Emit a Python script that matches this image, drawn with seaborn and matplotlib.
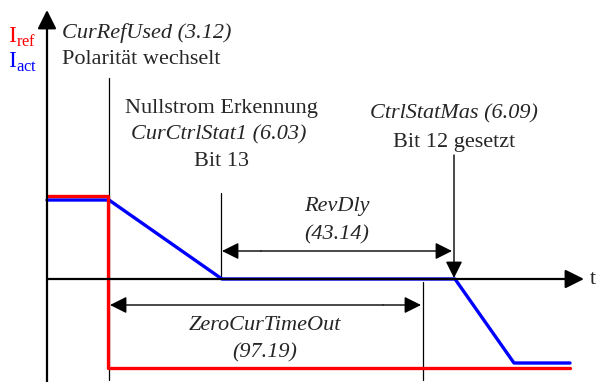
"""
Timing diagram: polarity reversal of the current reference (I_ref / I_act).
"""

import matplotlib
matplotlib.use("Agg")
import matplotlib.pyplot as plt
import seaborn as sns
import pandas as pd

# time positions (x) and current levels (y, 0 = time axis)
ref_t = [47, 108, 108, 570]
ref_i = [83, 83, -89, -89]
act_t = [47, 109, 222, 455, 514, 570]
act_i = [79, 79, 0, 0, -84, -84]

# event markers
t_switch = 108      # CurRefUsed polarity change
t_zero = 221        # zero current detected
t_timeout = 423     # end of ZeroCurTimeOut
t_ctrl = 454        # CtrlStatMas bit 12 set

RED = "#ff0000"
BLUE = "#0000ff"
FONT = ["Liberation Serif", "DejaVu Serif"]
FS = 16


def arrow(ax, start, end, style="-|>", lw=1.0, scale=17):
    ax.annotate("", xy=end, xytext=start,
                arrowprops=dict(arrowstyle=f"{style},head_length=0.6,head_width=0.3",
                                mutation_scale=scale, color="black", lw=lw,
                                shrinkA=0, shrinkB=0))


def main():
    sns.set_theme(style="white")
    plt.rcParams["font.family"] = FONT
    plt.rcParams["mathtext.fontset"] = "custom"
    plt.rcParams["mathtext.rm"] = "Liberation Serif"

    fig = plt.figure(figsize=(6.02, 3.82), dpi=100)
    ax = fig.add_axes([0, 0, 1, 1])
    ax.set_xlim(0, 602)
    ax.set_ylim(-103, 279)
    ax.axis("off")

    # axes
    arrow(ax, (47, -103), (47, 269), lw=1.6, scale=19)
    arrow(ax, (47, 0), (584, 0), lw=1.6, scale=19)
    ax.text(590, 0, "t", fontsize=FS, va="center", ha="left")
    ax.text(8, 242, r"I$_{\rm ref}$", color=RED, fontsize=FS + 1, va="center")
    ax.text(8, 217, r"I$_{\rm act}$", color=BLUE, fontsize=FS + 1, va="center")

    # event marker lines
    ax.plot([t_switch + 1, t_switch + 1], [201, -101], color="black", lw=0.9)
    ax.plot([t_zero, t_zero], [86, 0], color="black", lw=0.9)
    ax.plot([t_timeout, t_timeout], [-3, -101], color="black", lw=0.9)

    # currents
    df_act = pd.DataFrame({"t": act_t, "i": act_i})
    df_ref = pd.DataFrame({"t": ref_t, "i": ref_i})
    sns.lineplot(data=df_act, x="t", y="i", sort=False, estimator=None,
                 color=BLUE, lw=2.4, ax=ax)
    sns.lineplot(data=df_ref, x="t", y="i", sort=False, estimator=None,
                 color=RED, lw=2.4, ax=ax)
    ax.set_xlim(0, 602)
    ax.set_ylim(-103, 279)

    # time spans
    arrow(ax, (t_zero + 40, 28), (t_zero + 1, 28))
    arrow(ax, (t_zero + 40, 28), (t_ctrl - 2, 28))
    arrow(ax, (t_timeout - 40, -26), (t_switch + 2, -26))
    arrow(ax, (t_timeout - 40, -26), (t_timeout - 2, -26))
    arrow(ax, (t_ctrl, 124), (t_ctrl, 1))

    # labels
    ax.text(62, 246, "CurRefUsed (3.12)", style="italic", fontsize=FS, va="center")
    ax.text(62, 219, "Polarität wechselt", fontsize=FS, va="center")
    ax.text(221, 171, "Nullstrom Erkennung", fontsize=FS, ha="center", va="center")
    ax.text(219, 144, "CurCtrlStat1 (6.03)", style="italic", fontsize=FS, ha="center", va="center")
    ax.text(221, 117, "Bit 13", fontsize=FS, ha="center", va="center")
    ax.text(454, 165, "CtrlStatMas (6.09)", style="italic", fontsize=FS, ha="center", va="center")
    ax.text(454, 137, "Bit 12 gesetzt", fontsize=FS, ha="center", va="center")
    ax.text(337, 72, "RevDly", style="italic", fontsize=FS, ha="center", va="center")
    ax.text(337, 44, "(43.14)", style="italic", fontsize=FS, ha="center", va="center")
    ax.text(265, -47, "ZeroCurTimeOut", style="italic", fontsize=FS, ha="center", va="center")
    ax.text(265, -74, "(97.19)", style="italic", fontsize=FS, ha="center", va="center")

    fig.savefig("out.png", dpi=100)
    plt.close(fig)


if __name__ == "__main__":
    main()
